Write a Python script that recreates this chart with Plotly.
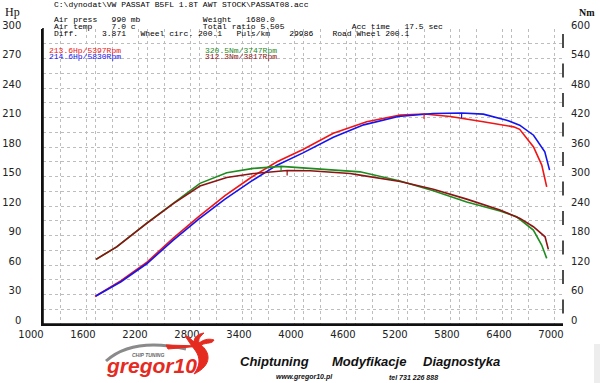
import plotly.graph_objects as go

# ---------------- data ----------------
rpm_red = [1600, 1900, 2200, 2500, 2800, 3100, 3400, 3700, 4000, 4350, 4735, 5120, 5397, 5700, 6080, 6430, 6500, 6660, 6755, 6812]
hp_red = [28, 44, 63, 87, 109.5, 130.5, 149, 165, 177.5, 194, 205.6, 212.4, 213.6, 211, 205.6, 200.5, 198, 180, 161.6, 139.5]

rpm_blue = [1610, 1900, 2200, 2500, 2800, 3100, 3400, 3700, 4000, 4350, 4700, 5100, 5500, 5830, 6080, 6350, 6500, 6660, 6790, 6845]
hp_blue = [28.5, 43, 61.5, 85, 107, 127, 145, 161.5, 174, 190, 202.5, 211, 214, 214.6, 213.4, 207.3, 202.2, 192, 175, 156.5]

rpm_green = [1612, 1850, 2197, 2504, 2811, 3120, 3427, 3747, 4081, 4658, 5120, 5504, 5889, 6273, 6465, 6658, 6754, 6812]
nm_green = [131.5, 157, 205, 246, 286, 307.5, 316.5, 320.5, 316.5, 309.5, 291, 271, 248, 230, 218, 191, 160.6, 133.5]

rpm_dred = [1612, 1850, 2197, 2504, 2811, 3120, 3427, 3817, 4081, 4543, 4658, 5120, 5504, 5889, 6273, 6504, 6658, 6793, 6831]
nm_dred = [131.5, 157, 204.5, 245, 280.5, 298, 306, 312.3, 311.6, 306, 302.8, 290, 274, 254, 231.7, 214.8, 197.8, 177.4, 151.8]

peak_labels = ["213.6Hp/5397Rpm", "214.6Hp/5830Rpm", "320.5Nm/3747Rpm", "312.3Nm/3817Rpm"]
peak_rpm = [5397, 5830, 3747, 3817]
peak_val = [213.6, 214.6, 320.5, 312.3]
peak_axis = ["y", "y", "y2", "y2"]

x_ticks = list(range(1000, 7001, 600))
hp_ticks = list(range(0, 301, 30))
nm_ticks = list(range(0, 601, 60))

C_RED = "#f01414"
C_BLUE = "#1414f0"
C_GREEN = "#1e8c1e"
C_DRED = "#8c1414"
peak_colors = [C_RED, C_BLUE, C_GREEN, C_DRED]

# ---------------- geometry helpers (pixels -> paper) ----------------
L, R, T, B = 43, 37, 29, 59
W, H = 600, 383
PW, PH = W - L - R, H - T - B


def pxx(x):
    return (x - L) / PW


def pxy(y):
    return (H - B - y) / PH


def nb(s):
    return s.replace(" ", "\u00a0")


fig = go.Figure()
fig.add_trace(go.Scatter(x=rpm_red, y=hp_red, mode="lines", line=dict(color=C_RED, width=1.6), yaxis="y"))
fig.add_trace(go.Scatter(x=rpm_blue, y=hp_blue, mode="lines", line=dict(color=C_BLUE, width=1.6), yaxis="y"))
fig.add_trace(go.Scatter(x=rpm_green, y=nm_green, mode="lines", line=dict(color=C_GREEN, width=1.6), yaxis="y2"))
fig.add_trace(go.Scatter(x=rpm_dred, y=nm_dred, mode="lines", line=dict(color=C_DRED, width=1.6), yaxis="y2"))

shapes = []
# hide the grid lines lying on the top edge and on the right edge
shapes.append(dict(type="line", xref="paper", yref="paper", x0=0.004, x1=1, y0=1, y1=1,
                   line=dict(color="white", width=2), layer="below"))
shapes.append(dict(type="line", xref="paper", yref="paper", x0=1, x1=1, y0=0.004, y1=1,
                   line=dict(color="white", width=2), layer="below"))
# left and bottom axis lines
shapes.append(dict(type="line", xref="paper", yref="paper", x0=0, x1=0, y0=0, y1=1.003,
                   line=dict(color="#111", width=1.6)))
shapes.append(dict(type="line", xref="paper", yref="paper", x0=0, x1=1, y0=0, y1=0,
                   line=dict(color="#111", width=1.6)))
# peak tick marks
for r, v, ax, c in zip(peak_rpm, peak_val, peak_axis, peak_colors):
    shapes.append(dict(type="line", xref="x", yref=ax, ysizemode="pixel", yanchor=v,
                       x0=r, x1=r, y0=-5, y1=0, line=dict(color=c, width=1.2)))
# broken right axis
for v in nm_ticks[1:]:
    shapes.append(dict(type="line", xref="paper", yref="y2", ysizemode="pixel", yanchor=v,
                       x0=1, x1=1, y0=-19, y1=-5, line=dict(color="#111", width=1.5)))
# light grey box bottom right
shapes.append(dict(type="rect", xref="paper", yref="paper", x0=pxx(594), x1=pxx(600), y0=pxy(383), y1=pxy(344),
                   line=dict(width=0), fillcolor="#ededed", layer="below"))
# logo swoosh
shapes.append(dict(type="path", xref="paper", yref="paper",
                   path=f"M {pxx(106)},{pxy(361)} Q {pxx(133)},{pxy(337)} {pxx(186)},{pxy(349)}",
                   line=dict(color="#8a8a8a", width=3)))
shapes.append(dict(type="path", xref="paper", yref="paper",
                   path=f"M {pxx(166)},{pxy(345)} L {pxx(201)},{pxy(346)} L {pxx(168)},{pxy(349)} Z",
                   line=dict(color="#e52a1f", width=1), fillcolor="#e52a1f"))
# flame
flame = (f"M {pxx(194)},{pxy(374)} C {pxx(213)},{pxy(365)} {pxx(210)},{pxy(352)} {pxx(201)},{pxy(345)} "
         f"C {pxx(208)},{pxy(342)} {pxx(212)},{pxy(344)} {pxx(214)},{pxy(340)} "
         f"C {pxx(208)},{pxy(338)} {pxx(203)},{pxy(340)} {pxx(199)},{pxy(343)} "
         f"C {pxx(198)},{pxy(338)} {pxx(201)},{pxy(336)} {pxx(204)},{pxy(333)} "
         f"C {pxx(197)},{pxy(334)} {pxx(194)},{pxy(338)} {pxx(194)},{pxy(342)} "
         f"C {pxx(190)},{pxy(338)} {pxx(188)},{pxy(336)} {pxx(185)},{pxy(336)} "
         f"C {pxx(188)},{pxy(340)} {pxx(190)},{pxy(344)} {pxx(195)},{pxy(350)} "
         f"C {pxx(201)},{pxy(358)} {pxx(200)},{pxy(366)} {pxx(194)},{pxy(374)} Z")
shapes.append(dict(type="path", xref="paper", yref="paper", path=flame,
                   line=dict(color="#e52a1f", width=1), fillcolor="#e52a1f"))

ann = []
MONO = "Liberation Mono"


def add(text, x, y, size=8, color="#111", family=MONO, xanchor="left", weight="normal", style="normal"):
    ann.append(dict(text=text, x=pxx(x), y=pxy(y), xref="paper", yref="paper", showarrow=False,
                    xanchor=xanchor, yanchor="middle",
                    font=dict(size=size, color=color, family=family, weight=weight, style=style)))


add("Hp", 3, 12, size=12, family="Liberation Serif", color="#111")
add("Nm", 577, 13, size=10, family="Liberation Serif", weight="bold", color="#111")
add(nb("C:\\dynodat\\VW PASSAT B5FL 1.8T AWT STOCK\\PASSAT08.acc"), 52, 5, color="#000")


def cols(parts):
    s = ""
    for c, t in parts:
        s = s.ljust(c) + t
    return nb(s)


add(cols([(0, "Air press"), (12, "990 mb"), (31, "Weight"), (40, "1680.0")]), 52, 19.5, color="#000")
add(cols([(0, "Air temp"), (12, "7.0 c"), (31, "Total ratio 5.505"), (62, "Acc time"), (73, "17.5 sec")]), 52, 26.5, color="#000")
add(cols([(0, "Diff."), (10, "3.871"), (18, "Wheel circ. 200.1"), (38, "Puls/km"), (49, "29986"), (58, "Road Wheel 200.1")]), 52, 33.5, color="#000")

add(peak_labels[0], 47, 50, color=C_RED)
add(peak_labels[1], 47, 57, color=C_BLUE)
add(peak_labels[2], 203, 50, color=C_GREEN)
add(peak_labels[3], 203, 57, color=C_DRED)

BI = dict(family="Liberation Sans", weight="bold", style="italic")
add("Chiptuning", 238, 361, size=13, color="#111", **BI)
add("Modyfikacje", 330, 361, size=13, color="#111", **BI)
add("Diagnostyka", 421, 361, size=13, color="#111", **BI)
add("www.gregor10.pl", 274, 377, size=7, color="#111", **BI)
add("tel 731 226 888", 387, 377, size=7, color="#111", **BI)
add("gregor10", 104, 365, size=21, color="#e52a1f", **BI)
add("CHIP TUNING", 130, 355, size=5, color="#666", **BI)

grid = dict(showgrid=True, gridcolor="#bdbdbd", griddash="dot", gridwidth=1)
tickfont = dict(family="DejaVu Sans", size=10, color="#222")

fig.update_layout(
    width=W, height=H,
    margin=dict(l=L, r=R, t=T, b=B, autoexpand=False),
    paper_bgcolor="white", plot_bgcolor="white",
    showlegend=False,
    shapes=shapes, annotations=ann,
    xaxis=dict(range=[1000, 7000], tickvals=x_ticks, ticktext=[str(v) for v in x_ticks], ticks="",
               ticklabelshift=-12, ticklabelstandoff=0, tickfont=tickfont, automargin=False,
               showline=True, linecolor="#111", linewidth=1.5, zeroline=False,
               minor=dict(dtick=300, showgrid=True, gridcolor="#bdbdbd", griddash="dot"), **grid),
    yaxis=dict(range=[0, 300], tickvals=hp_ticks, ticks="", ticklabelstandoff=18, ticklabelshift=-4,
               tickfont=tickfont, automargin=False, showline=True, linecolor="#111", linewidth=1.5, zeroline=False,
               minor=dict(dtick=15, showgrid=True, gridcolor="#bdbdbd", griddash="dot"), **grid),
    yaxis2=dict(range=[0, 600], tickvals=nm_ticks, ticks="", ticklabelstandoff=7, ticklabelshift=-4,
                tickfont=tickfont, automargin=False, overlaying="y", side="right", showgrid=False,
                showline=False, zeroline=False),
)

fig.write_html("out.html", config={"displayModeBar": False},
               post_script="document.body.style.margin='0';document.body.style.overflow='hidden';")
